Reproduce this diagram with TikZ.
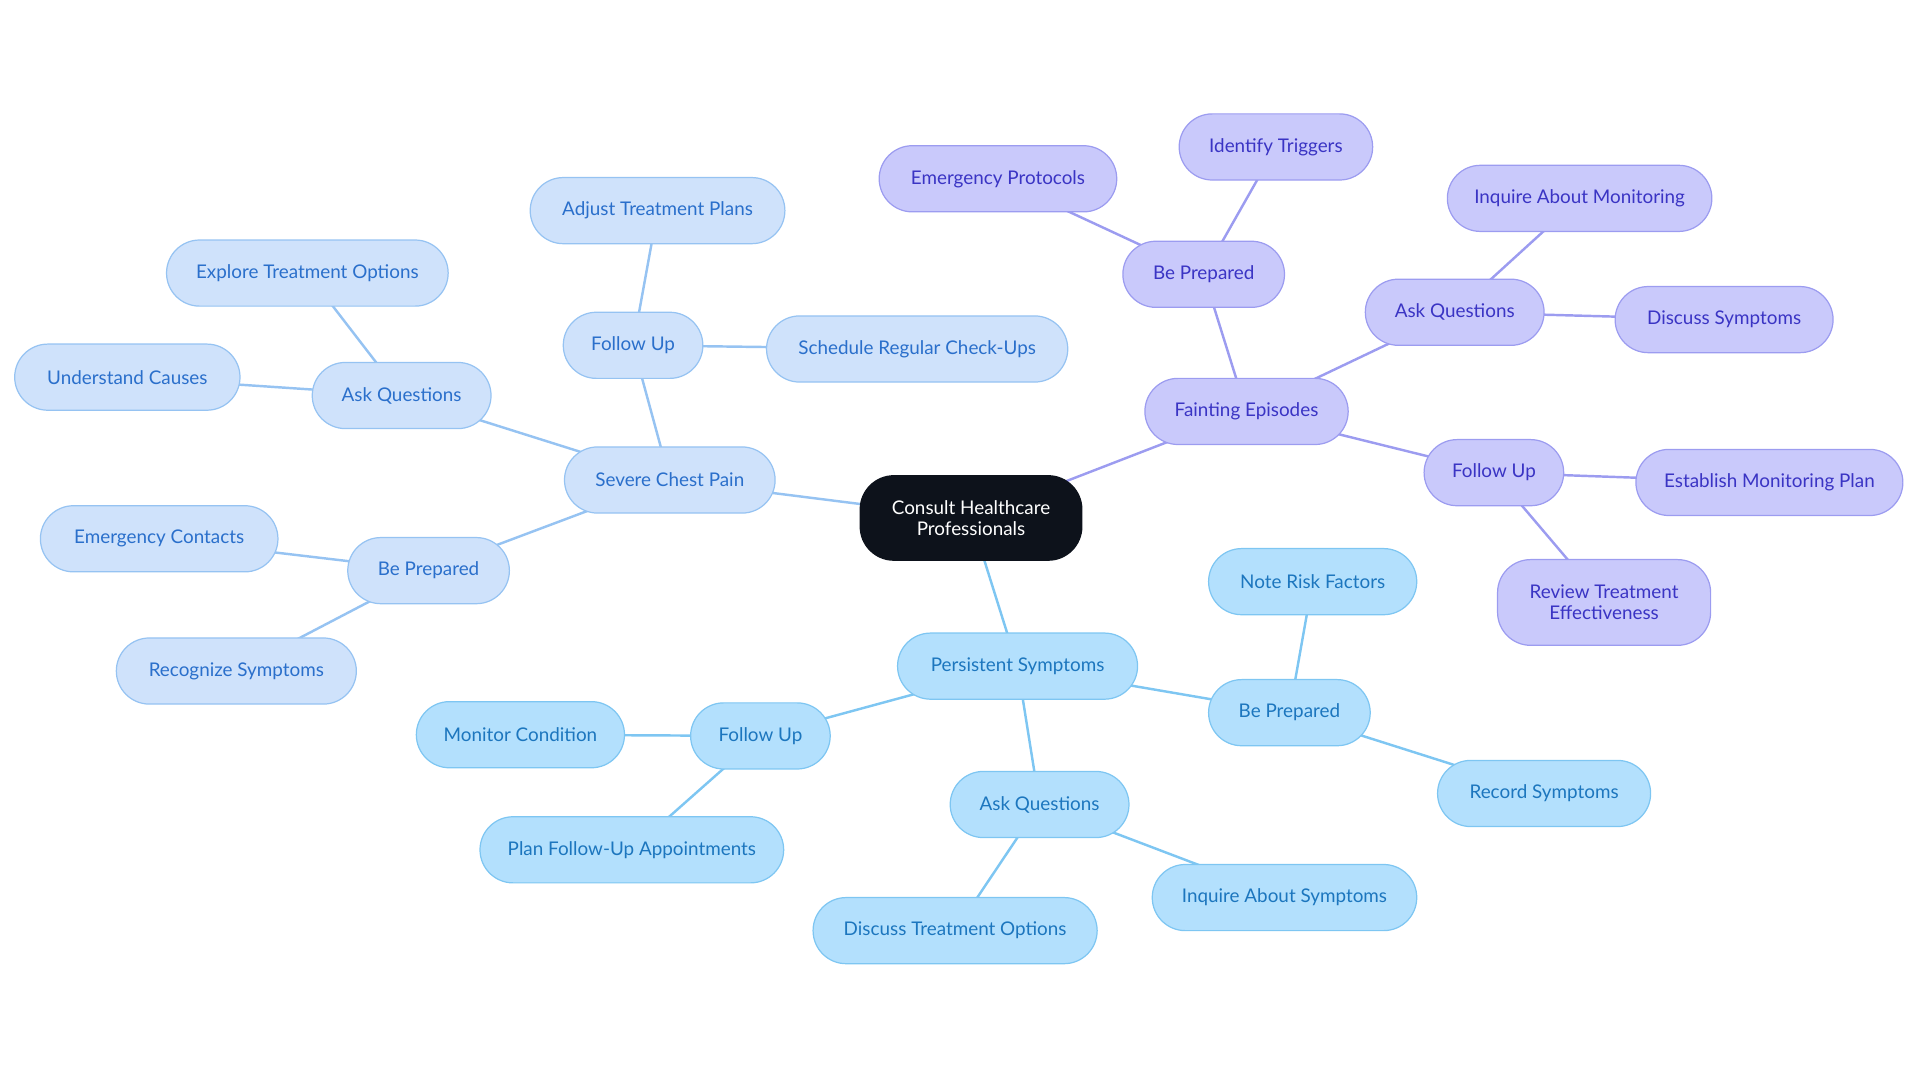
\documentclass[tikz,border=0pt]{standalone}
\usepackage{fontspec}
\setmainfont{Lato}
\usetikzlibrary{backgrounds}
\definecolor{bf}{HTML}{CFE2FB}\definecolor{bd}{HTML}{96C3F2}\definecolor{bt}{HTML}{2A6FCB}
\definecolor{pf}{HTML}{B3E0FD}\definecolor{pd}{HTML}{7EC6F2}\definecolor{pt}{HTML}{1C76BE}
\definecolor{vf}{HTML}{C9C9FB}\definecolor{vd}{HTML}{9C9CF0}\definecolor{vt}{HTML}{3A34C4}
\definecolor{cf}{HTML}{0D121B}
\tikzset{
 nb/.style={rounded corners=13.5pt,minimum height=27pt,inner sep=0pt,align=center,font=\fontsize{7.7}{8.4}\selectfont,line width=0.5pt},
 b/.style={nb,fill=bf,draw=bd,text=bt},
 p/.style={nb,fill=pf,draw=pd,text=pt},
 v/.style={nb,fill=vf,draw=vd,text=vt},
 eb/.style={draw=bd,line width=1pt},
 ep/.style={draw=pd,line width=1pt},
 ev/.style={draw=vd,line width=1pt},
}
\begin{document}
\begin{tikzpicture}[x=0.5pt,y=-0.5pt]
\useasboundingbox (0,0) rectangle (1568,884.5);
\node[nb,fill=cf,text=white,minimum width=91pt,minimum height=35pt,rounded corners=14pt] (c) at (793,423) {Consult Healthcare\\Professionals};
\node[b,minimum width=86pt] (s) at (547,392) {Severe Chest Pain};
\node[b,minimum width=57pt] (sf) at (517,282) {Follow Up};
\node[b,minimum width=104pt] (sf1) at (537,172) {Adjust Treatment Plans};
\node[b,minimum width=123pt] (sf2) at (749,285) {Schedule Regular Check-Ups};
\node[b,minimum width=73pt] (sa) at (328,323) {Ask Questions};
\node[b,minimum width=115pt] (sa1) at (251,223) {Explore Treatment Options};
\node[b,minimum width=92pt] (sa2) at (104,308) {Understand Causes};
\node[b,minimum width=66pt] (sb) at (350,466) {Be Prepared};
\node[b,minimum width=97pt] (sb1) at (130,440) {Emergency Contacts};
\node[b,minimum width=98pt] (sb2) at (193,548) {Recognize Symptoms};
\node[v,minimum width=83pt] (f) at (1018,336) {Fainting Episodes};
\node[v,minimum width=66pt] (fb) at (983,224) {Be Prepared};
\node[v,minimum width=97pt] (fb1) at (815,146) {Emergency Protocols};
\node[v,minimum width=79pt] (fb2) at (1042,120) {Identify Triggers};
\node[v,minimum width=73pt] (fa) at (1188,255) {Ask Questions};
\node[v,minimum width=108pt] (fa1) at (1290,162) {Inquire About Monitoring};
\node[v,minimum width=89pt] (fa2) at (1408,261) {Discuss Symptoms};
\node[v,minimum width=57pt] (ff) at (1220,386) {Follow Up};
\node[v,minimum width=109pt] (ff1) at (1445,394) {Establish Monitoring Plan};
\node[v,minimum width=87pt,minimum height=35pt] (ff2) at (1310,492) {Review Treatment\\Effectiveness};
\node[p,minimum width=98pt] (q) at (831,544) {Persistent Symptoms};
\node[p,minimum width=66pt] (qb) at (1053,582) {Be Prepared};
\node[p,minimum width=85pt] (qb1) at (1072,475) {Note Risk Factors};
\node[p,minimum width=87pt] (qb2) at (1261,648) {Record Symptoms};
\node[p,minimum width=73pt] (qa) at (849,657) {Ask Questions};
\node[p,minimum width=108pt] (qa1) at (1049,733) {Inquire About Symptoms};
\node[p,minimum width=116pt] (qa2) at (780,760) {Discuss Treatment Options};
\node[p,minimum width=57pt] (qf) at (621,601) {Follow Up};
\node[p,minimum width=85pt] (qf1) at (425,600) {Monitor Condition};
\node[p,minimum width=124pt] (qf2) at (516,694) {Plan Follow-Up Appointments};
\begin{scope}[on background layer]
\foreach \a/\z in {c/s,s/sf,sf/sf1,sf/sf2,s/sa,sa/sa1,sa/sa2,s/sb,sb/sb1,sb/sb2}
 \draw[eb] (\a.center) -- (\z.center);
\foreach \a/\z in {c/f,f/fb,fb/fb1,fb/fb2,f/fa,fa/fa1,fa/fa2,f/ff,ff/ff1,ff/ff2}
 \draw[ev] (\a.center) -- (\z.center);
\foreach \a/\z in {c/q,q/qb,qb/qb1,qb/qb2,q/qa,qa/qa1,qa/qa2,q/qf,qf/qf1,qf/qf2}
 \draw[ep] (\a.center) -- (\z.center);
\end{scope}
\end{tikzpicture}
\end{document}
